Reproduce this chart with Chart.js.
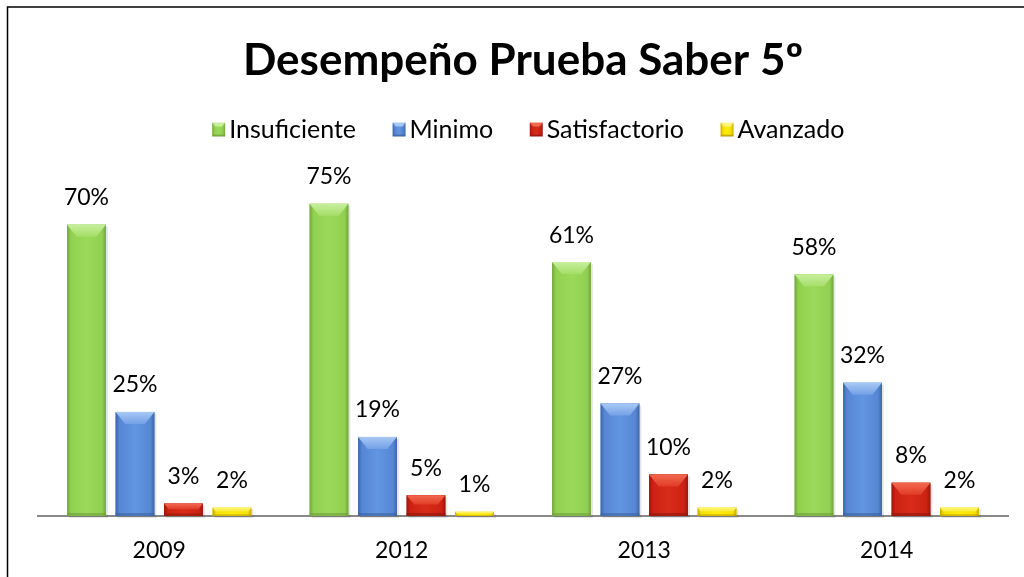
<!DOCTYPE html>
<html>
<head>
<meta charset="utf-8">
<script src="https://cdn.jsdelivr.net/npm/chart.js@4.4.1/dist/chart.umd.min.js"></script>
<style>
  html,body{margin:0;padding:0;background:#fff;}
  #wrap{width:1024px;height:577px;position:relative;}
</style>
</head>
<body>
<div id="wrap"><canvas id="c"></canvas></div>
<script>
// ---- data ----
const categories = ['2009', '2012', '2013', '2014'];
const seriesNames = ['Insuficiente', 'Minimo', 'Satisfactorio', 'Avanzado'];
const insuficiente = [70, 75, 61, 58];
const minimo = [25, 19, 27, 32];
const satisfactorio = [3, 5, 10, 8];
const avanzado = [2, 1, 2, 2];
const chartTitle = 'Desempeño Prueba Saber 5º';

// ---- styles ----
const FONT = 'Lato';
const palettes = [
  {base:'#92d050', mid:'#9bd95a', edge:'#72a640', hi:'#c6ef9c', hi2:'#a4de68', low:'#6f9f3c'},
  {base:'#5686d4', mid:'#6196e2', edge:'#3d66a8', hi:'#a6c8f4', hi2:'#74a0e6', low:'#3c63a0'},
  {base:'#cc2212', mid:'#d82c1a', edge:'#9a180c', hi:'#f26a50', hi2:'#e03c26', low:'#8e160b'},
  {base:'#f6e200', mid:'#fdec10', edge:'#c8a800', hi:'#fff57e', hi2:'#fbe930', low:'#b89800'}
];

function legendImage(p){
  const cv = document.createElement('canvas');
  cv.width = 60; cv.height = 16;
  const c = cv.getContext('2d');
  const l = 41, t = 1, w = 13, h = 14;
  const g = c.createLinearGradient(l,0,l+w,0);
  g.addColorStop(0,p.edge); g.addColorStop(0.2,p.base); g.addColorStop(0.5,p.mid); g.addColorStop(0.8,p.base); g.addColorStop(1,p.edge);
  c.fillStyle = g; c.fillRect(l,t,w,h);
  c.beginPath(); c.moveTo(l,t); c.lineTo(l+w,t); c.lineTo(l+w-3,t+4); c.lineTo(l+3,t+4); c.closePath();
  c.fillStyle = p.hi; c.fill();
  c.fillStyle = p.low; c.fillRect(l, t+h-1.5, w, 1.5);
  return cv;
}

const frame = {
  id:'frame',
  beforeDraw(chart){
    const ctx = chart.ctx;
    ctx.save();
    ctx.strokeStyle = '#000'; ctx.lineWidth = 1.5;
    ctx.beginPath(); ctx.moveTo(7.5, 577); ctx.lineTo(7.5, 7); ctx.lineTo(1024, 7); ctx.stroke();
    ctx.restore();
  }
};

const shade = {
  id:'shade',
  beforeDatasetsDraw(chart){
    const ctx = chart.ctx;
    chart.data.datasets.forEach((ds, i) => {
      const meta = chart.getDatasetMeta(i);
      meta.data.forEach(bar => {
        const {x, y, base, width} = bar.getProps(['x','y','base','width'], true);
        const h = base - y;
        if (h <= 0) return;
        ctx.save();
        ctx.fillStyle = 'rgba(0,0,0,0.10)';
        ctx.fillRect(x - width/2 + 2, y + 2, width, h);
        ctx.restore();
      });
    });
  },
  afterDatasetsDraw(chart){
    const ctx = chart.ctx;
    chart.data.datasets.forEach((ds, i) => {
      const meta = chart.getDatasetMeta(i);
      const p = palettes[i];
      meta.data.forEach(bar => {
        const {x, y, base, width} = bar.getProps(['x','y','base','width'], true);
        const l = x - width/2, r = x + width/2, t = y, b = base, h = b - t;
        if (h <= 0) return;
        ctx.save();
        const g = ctx.createLinearGradient(l,0,r,0);
        g.addColorStop(0, p.edge); g.addColorStop(0.1, p.base); g.addColorStop(0.5, p.mid); g.addColorStop(0.9, p.base); g.addColorStop(1, p.edge);
        ctx.fillStyle = g; ctx.fillRect(l, t, width, h);
        const bv = Math.min(12, h*0.45);
        const vg = ctx.createLinearGradient(0, t, 0, t+bv);
        vg.addColorStop(0, p.hi); vg.addColorStop(1, p.hi2);
        ctx.beginPath(); ctx.moveTo(l, t); ctx.lineTo(r, t); ctx.lineTo(r - bv*0.8, t + bv); ctx.lineTo(l + bv*0.8, t + bv); ctx.closePath();
        ctx.fillStyle = vg; ctx.fill();
        const bb = Math.min(3, h*0.2);
        ctx.fillStyle = p.low; ctx.globalAlpha = 0.6; ctx.fillRect(l, b - bb, width, bb);
        ctx.restore();
      });
    });
  }
};

const labels = {
  id:'valueLabels',
  afterDatasetsDraw(chart){
    const ctx = chart.ctx;
    ctx.save();
    ctx.font = '23px ' + FONT;
    ctx.fillStyle = '#000';
    ctx.textAlign = 'center';
    ctx.textBaseline = 'middle';
    chart.data.datasets.forEach((ds, i) => {
      const meta = chart.getDatasetMeta(i);
      meta.data.forEach((bar, j) => {
        ctx.fillText(ds.data[j] + '%', bar.x, bar.y - 27);
      });
    });
    ctx.restore();
  }
};

const legendHeightFix = {
  id:'legendHeightFix',
  beforeInit(chart){
    const lg = chart.legend;
    if (!lg) return;
    const orig = lg.fit;
    lg.fit = function(){ orig.call(this); this.height = 183 - 107; };
  },
  afterLayout(chart){
    const lg = chart.legend;
    if (!lg) return;
    lg.left -= 8; lg.right -= 8;
  }
};

const seriesData = [insuficiente, minimo, satisfactorio, avanzado];
const datasets = seriesNames.map((name, i) => ({
  label: name,
  data: seriesData[i],
  backgroundColor: palettes[i].base,
  borderWidth: 0,
  barPercentage: 0.8,
  categoryPercentage: 0.8,
  pointStyle: legendImage(palettes[i])
}));

new Chart(document.getElementById('c'), {
  type:'bar',
  data:{ labels: categories, datasets },
  options:{
    responsive:true,
    maintainAspectRatio:false,
    animation:false,
    events:[],
    layout:{ padding:{ left:38, right:16, top:0, bottom:0 } },
    scales:{
      x:{
        grid:{ display:false, drawTicks:false, tickLength:0 },
        border:{ display:true, color:'#898989', width:2 },
        ticks:{ color:'#000', font:{ family:FONT, size:23 }, padding:21 },
        afterFit(scale){ scale.height = 61; }
      },
      y:{ display:false, min:0, max:80 }
    },
    plugins:{
      title:{ display:true, text:chartTitle, color:'#000', font:{ family:FONT, size:44, weight:'bold' }, padding:{ top:34.1, bottom:20.1 } },
      legend:{
        display:true,
        labels:{ usePointStyle:true, pointStyleWidth:31, boxHeight:14, color:'#000', font:{ family:FONT, size:25 }, padding:10 }
      },
      tooltip:{ enabled:false }
    }
  },
  plugins:[frame, shade, labels, legendHeightFix]
});
</script>
</body>
</html>
